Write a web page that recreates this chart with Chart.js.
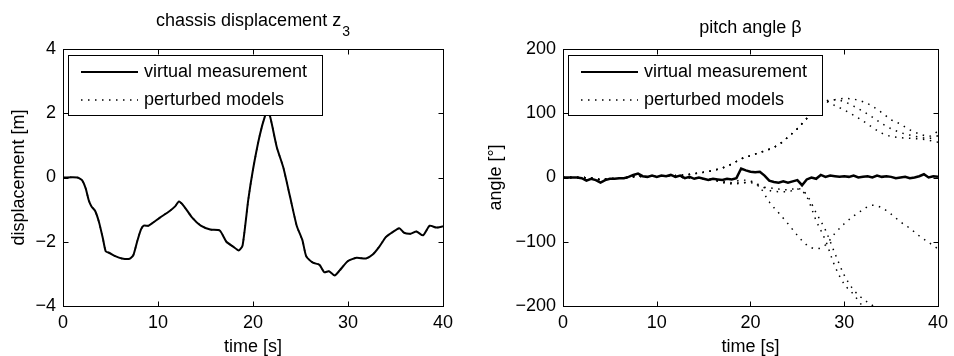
<!DOCTYPE html>
<html>
<head>
<meta charset="utf-8">
<script src="https://cdn.jsdelivr.net/npm/chart.js@4/dist/chart.umd.min.js"></script>
<style>
  body { margin: 0; background: #fff; }
  .row { display: flex; width: 954px; height: 356px; }
  canvas { display: block; }
</style>
</head>
<body>
<div class="row">
  <canvas id="dispChart" width="477" height="356"></canvas>
  <canvas id="pitchChart" width="477" height="356"></canvas>
</div>
<script>
// chassis displacement z3 [m] vs time [s]
let dispTimes = [0, 1.5, 2.0, 2.4, 2.7, 3.0, 3.4, 3.8, 4.2, 4.5, 4.9, 5.5, 6.2, 7.0, 7.4, 7.8, 8.2, 8.5, 9.0, 9.5,
  10.2, 11.2, 11.8, 12.2, 12.7, 13.6, 14.5, 15.5, 16.5, 17.2, 17.9, 18.5, 18.9, 19.5, 20.0, 20.7, 21.3, 21.5, 21.8,
  22.5, 23.2, 23.9, 24.6, 25.2, 25.6, 26.3, 27.0, 27.5, 28.0, 28.6, 29.1, 30.0, 30.9, 31.9, 32.6, 33.3, 34.0, 34.7,
  35.4, 35.9, 36.6, 37.2, 37.9, 38.6, 39.3, 40];
let dispMeasured = [0, 0, -0.08, -0.35, -0.7, -0.9, -1.05, -1.4, -1.9, -2.3, -2.35, -2.45, -2.52, -2.53, -2.42, -2.0,
  -1.62, -1.5, -1.5, -1.4, -1.25, -1.05, -0.9, -0.75, -0.88, -1.25, -1.5, -1.62, -1.65, -2.0, -2.15, -2.27, -2.12,
  -0.7, 0.25, 1.3, 1.95, 2.02, 1.9, 0.95, 0.3, -0.6, -1.5, -1.95, -2.45, -2.65, -2.72, -2.95, -2.92, -3.05, -2.9,
  -2.6, -2.5, -2.52, -2.4, -2.15, -1.85, -1.7, -1.58, -1.72, -1.75, -1.68, -1.8, -1.5, -1.56, -1.52];

// pitch angle beta [deg]: measurement sampled every 0.5 s
let pitchTimes = [0, 0.5, 1, 1.5, 2, 2.5, 3, 3.5, 4, 4.5, 5, 5.5, 6, 6.5, 7, 7.5, 8, 8.5, 9, 9.5, 10, 10.5, 11, 11.5,
  12, 12.5, 13, 13.5, 14, 14.5, 15, 15.5, 16, 16.5, 17, 17.5, 18, 18.5, 19, 19.5, 20, 20.5, 21, 21.5, 22, 22.5, 23,
  23.5, 24, 24.5, 25, 25.5, 26, 26.5, 27, 27.5, 28, 28.5, 29, 29.5, 30, 30.5, 31, 31.5, 32, 32.5, 33, 33.5, 34, 34.5,
  35, 35.5, 36, 36.5, 37, 37.5, 38, 38.5, 39, 39.5, 40];
let pitchMeasured = [0, 0, 0, 0, -1, -5, -2, -4, -8, -4, -2, -2, -1, -1, 1, 4, 6, 2, 1, 3, 1, 3, 2, 4,
  1, 3, -1, 1, -2, 0, -2, -4, -2, -3, -4, -2, -3, -1, 14, 11, 9, 8, 9, 3, -5, -7, -8,
  -6, -8, -6, -4, -12, -3, 0, -2, 4, 1, 3, 2, 1, 2, 1, 3, 0, 1, 2, 0, 3, 1, 2,
  1, -1, 0, 1, -1, 0, 2, 5, 0, 2, 1];

// perturbed models, sampled every 1 s
let modelTimes = [0, 1, 2, 3, 4, 5, 6, 7, 8, 9, 10, 11, 12, 13, 14, 15, 16, 17, 18, 19, 20,
  21, 22, 23, 24, 25, 26, 27, 28, 29, 30, 31, 32, 33, 34, 35, 36, 37, 38, 39, 40];
let modelUp1 = [0, 0, 0, -1, -3, -2, -1, 0, 2, 1, 2, 2, 3, 4, 6, 8, 11, 15, 21, 29, 34,
  39, 44, 51, 63, 76, 92, 108, 117, 121, 123, 122, 118, 111, 101, 90, 83, 74, 68, 64, 72];
let modelUp2 = [0, 0, 0, -1, -3, -2, -1, 0, 2, 1, 2, 2, 3, 4, 6, 8, 11, 15, 21, 29, 34,
  39, 44, 51, 63, 76, 92, 108, 118, 112, 105, 97, 88, 78, 69, 64, 62, 61, 60, 58, 55];
let modelUp3 = [0, 0, 0, -1, -3, -2, -1, 0, 2, 1, 2, 2, 3, 4, 6, 8, 11, 15, 21, 29, 34,
  39, 44, 51, 63, 76, 92, 108, 119, 121, 118, 111, 103, 94, 84, 76, 70, 66, 63, 61, 65];
let modelDown1 = [0, 0, 0, -1, -3, -2, -1, 0, 2, 1, 2, 2, 1, 0, -1, -2, -3, -6, -8, -4, -6,
  -15, -38, -55, -72, -90, -105, -111, -105, -87, -72, -60, -50, -43, -47, -57, -69, -79, -91, -101, -111];
let modelDown2 = [0, 0, 0, -1, -3, -2, -1, 0, 2, 1, 2, 2, 1, 0, -1, -2, -3, -7, -9, -8, -8,
  -14, -16, -18, -19, -17, -27, -55, -82, -118, -152, -175, -189, -199, -210, -220, -230, -240, -250, -260, -270];
let modelDown3 = [0, 0, 0, -1, -3, -2, -1, 0, 2, 1, 2, 2, 1, 0, -1, -2, -4, -8, -10, -9, -6,
  -12, -20, -22, -22, -18, -30, -67, -98, -138, -166, -182, -201, -215, -228, -240, -252, -264, -276, -288, -300];

let fontFamily = '"Liberation Sans", Arial, Helvetica, sans-serif';
let dotted = [1.5, 5.5];

function pts(xs, ys) {
  return xs.map((x, i) => ({ x: x, y: ys[i] }));
}

function minusTick(v) {
  return v < 0 ? '\u2212' + Math.abs(v) : String(v);
}

// box around the plot area with inward tick marks on all four sides
const matlabFrame = {
  id: 'matlabFrame',
  afterDraw(chart) {
    const { ctx, chartArea: a, scales } = chart;
    const L = Math.round(a.left) + 0.5, R = Math.round(a.right) + 0.5;
    const T = Math.round(a.top) + 0.5, B = Math.round(a.bottom) + 0.5;
    ctx.save();
    ctx.strokeStyle = '#000';
    ctx.lineWidth = 1;
    ctx.setLineDash([]);
    ctx.strokeRect(L, T, R - L, B - T);
    ctx.beginPath();
    scales.x.ticks.forEach(t => {
      const px = Math.round(scales.x.getPixelForValue(t.value)) + 0.5;
      ctx.moveTo(px, B); ctx.lineTo(px, B - 5);
      ctx.moveTo(px, T); ctx.lineTo(px, T + 5);
    });
    scales.y.ticks.forEach(t => {
      const py = Math.round(scales.y.getPixelForValue(t.value)) + 0.5;
      ctx.moveTo(L, py); ctx.lineTo(L + 5, py);
      ctx.moveTo(R, py); ctx.lineTo(R - 5, py);
    });
    ctx.stroke();
    ctx.restore();
  }
};

// matlab style legend box in the upper left corner of the axes
const boxLegend = {
  id: 'boxLegend',
  afterDraw(chart) {
    const { ctx, chartArea: a } = chart;
    const x = Math.round(a.left) + 5, y = Math.round(a.top) + 6, w = 254, h = 60;
    ctx.save();
    ctx.fillStyle = '#fff';
    ctx.fillRect(x, y, w, h);
    ctx.strokeStyle = '#000';
    ctx.lineWidth = 1;
    ctx.strokeRect(x + 0.5, y + 0.5, w, h);
    const items = [];
    chart.data.datasets.forEach(ds => {
      if (!items.find(d => d.label === ds.label)) items.push(ds);
    });
    items.forEach((ds, i) => {
      const ly = y + 17 + i * 28;
      ctx.setLineDash(ds.borderDash || []);
      ctx.lineWidth = Math.min(ds.borderWidth, 2);
      ctx.strokeStyle = ds.borderColor;
      ctx.beginPath();
      ctx.moveTo(x + 13, ly);
      ctx.lineTo(x + 70, ly);
      ctx.stroke();
      ctx.setLineDash([]);
      ctx.fillStyle = '#000';
      ctx.font = '18px ' + fontFamily;
      ctx.textBaseline = 'middle';
      ctx.textAlign = 'left';
      ctx.fillText(ds.label, x + 76, ly);
    });
    ctx.restore();
  }
};

// title with optional subscript
const subTitle = {
  id: 'subTitle',
  afterDraw(chart, args, opts) {
    const { ctx, chartArea: a } = chart;
    ctx.save();
    ctx.fillStyle = '#000';
    ctx.textBaseline = 'alphabetic';
    ctx.textAlign = 'left';
    ctx.font = '18px ' + fontFamily;
    const w1 = ctx.measureText(opts.text).width;
    ctx.font = '14px ' + fontFamily;
    const w2 = opts.sub ? ctx.measureText(opts.sub).width + 1 : 0;
    const x0 = (a.left + a.right) / 2 - (w1 + w2) / 2;
    ctx.font = '18px ' + fontFamily;
    ctx.fillText(opts.text, x0, opts.y);
    if (opts.sub) {
      ctx.font = '14px ' + fontFamily;
      ctx.fillText(opts.sub, x0 + w1 + 1, opts.y + 10);
    }
    ctx.restore();
  }
};

function axes(yMin, yMax, yStep, yTitle, yWidth) {
  return {
    x: {
      type: 'linear', min: 0, max: 40,
      ticks: { stepSize: 10, color: '#000', padding: 6, font: { family: fontFamily, size: 18 }, maxRotation: 0 },
      grid: { display: false, drawTicks: false },
      border: { display: false },
      title: { display: true, text: 'time [s]', color: '#000', padding: { top: 0, bottom: -2 },
        font: { family: fontFamily, size: 18, lineHeight: 1.2 } },
      afterFit: s => { s.height = 50; }
    },
    y: {
      type: 'linear', min: yMin, max: yMax,
      ticks: { stepSize: yStep, color: '#000', padding: 7, callback: minusTick, font: { family: fontFamily, size: 18 } },
      grid: { display: false, drawTicks: false },
      border: { display: false },
      title: { display: true, text: yTitle, color: '#000', padding: { top: 8, bottom: 0 },
        font: { family: fontFamily, size: 18, lineHeight: 1.2 } },
      afterFit: s => { s.width = yWidth; }
    }
  };
}

let dispChart = new Chart(document.getElementById('dispChart').getContext('2d'), {
  type: 'line',
  data: {
    datasets: [{
      label: 'virtual measurement',
      data: pts(dispTimes, dispMeasured),
      borderColor: '#000', borderWidth: 2, pointRadius: 0, tension: 0.2
    }, {
      label: 'perturbed models',
      data: pts(dispTimes, dispMeasured),
      borderColor: '#000', borderWidth: 1.5, borderDash: dotted, pointRadius: 0, tension: 0.2
    }]
  },
  options: {
    responsive: false,
    animation: false,
    layout: { padding: { top: 49, right: 34, left: 0, bottom: 0 } },
    scales: axes(-4, 4, 2, 'displacement [m]', 63),
    plugins: {
      legend: { display: false },
      tooltip: { enabled: false },
      subTitle: { text: 'chassis displacement z', sub: '3', y: 26 }
    }
  },
  plugins: [matlabFrame, boxLegend, subTitle]
});

let modelSets = [modelUp1, modelUp2, modelUp3, modelDown1, modelDown2, modelDown3].map(vals => ({
  label: 'perturbed models',
  data: pts(modelTimes, vals),
  borderColor: '#000', borderWidth: 1.5, borderDash: dotted, pointRadius: 0,
  cubicInterpolationMode: 'monotone'
}));

let pitchChart = new Chart(document.getElementById('pitchChart').getContext('2d'), {
  type: 'line',
  data: {
    datasets: [{
      label: 'virtual measurement',
      data: pts(pitchTimes, pitchMeasured),
      borderColor: '#000', borderWidth: 2.5, pointRadius: 0, tension: 0
    }].concat(modelSets)
  },
  options: {
    responsive: false,
    animation: false,
    layout: { padding: { top: 49, right: 12, left: 0, bottom: 0 } },
    scales: axes(-200, 200, 100, 'angle [\u00b0]', 86),
    plugins: {
      legend: { display: false },
      tooltip: { enabled: false },
      subTitle: { text: 'pitch angle \u03b2', y: 33 }
    }
  },
  plugins: [matlabFrame, boxLegend, subTitle]
});
</script>
</body>
</html>
